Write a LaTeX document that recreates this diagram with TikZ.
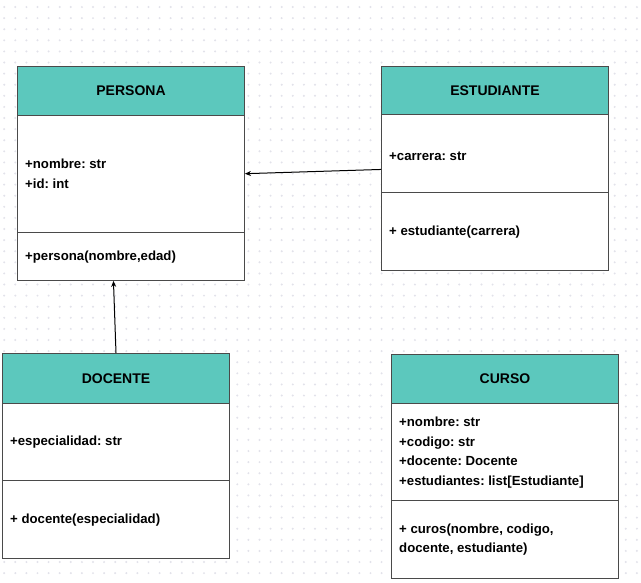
\documentclass[tikz,border=0pt]{standalone}
\usepackage{fontspec}
\setmainfont{Liberation Sans}
\frenchspacing
\usetikzlibrary{arrows.meta,calc}
\definecolor{teal1}{HTML}{5CC8BD}
\definecolor{edge}{HTML}{4A4A4A}
\definecolor{dotc}{HTML}{E2E2EA}
\tikzset{
  hdr/.style={draw=edge, fill=teal1, line width=1pt, anchor=north west, inner sep=0pt,
    font=\fontsize{14}{16}\selectfont\bfseries},
  sect/.style={draw=edge, fill=white, line width=0.9pt, anchor=north west, inner sep=0pt},
  txt/.style={anchor=west, inner sep=0pt, font=\fontsize{13.2}{19.5}\selectfont\bfseries\frenchspacing, align=left},
  arr/.style={-{Stealth[length=6pt,width=5pt]}, line width=1pt, draw=black}
}
\begin{document}
\begin{tikzpicture}[x=1pt,y=-1pt]
\useasboundingbox (0,0) rectangle (641,582);
\fill[white] (0,0) rectangle (641,582);
% dotted grid
\foreach \i in {0,...,57}{
  \foreach \j in {0,...,52}{
    \fill[dotc] ({4.2+11.1*\i},{7+11.1*\j}) circle (1.1);
  }
}
% PERSONA
\node[hdr, minimum width=227, minimum height=49] (perH) at (17,66) {PERSONA};
\node[sect, minimum width=227, minimum height=116.5] (perA) at (17,115) {};
\node[sect, minimum width=227, minimum height=48.5] (perM) at (17,231.5) {};
\node[txt] (perT1) at (25,174) {+nombre: str\\+id: int};
\node[txt] (perT2) at (25,257.5) {+persona(nombre,edad)};
% ESTUDIANTE
\node[hdr, minimum width=227, minimum height=48] (estH) at (381,66) {ESTUDIANTE};
\node[sect, minimum width=227, minimum height=78] (estA) at (381,114) {};
\node[sect, minimum width=227, minimum height=78] (estM) at (381,192) {};
\node[txt] (estT1) at (389,156) {+carrera: str};
\node[txt] (estT2) at (389,232.5) {+ estudiante(carrera)};
% DOCENTE
\node[hdr, minimum width=227, minimum height=50] (docH) at (2,353) {DOCENTE};
\node[sect, minimum width=227, minimum height=77] (docA) at (2,403) {};
\node[sect, minimum width=227, minimum height=78] (docM) at (2,480) {};
\node[txt] (docT1) at (10,442) {+especialidad: str};
\node[txt] (docT2) at (10,520.5) {+ docente(especialidad)};
% CURSO
\node[hdr, minimum width=227, minimum height=49] (curH) at (391,353.5) {CURSO};
\node[sect, minimum width=227, minimum height=97.5] (curA) at (391,402.5) {};
\node[sect, minimum width=227, minimum height=78] (curM) at (391,500) {};
\node[txt] (curT1) at (399,452.5) {+nombre: str\\+codigo: str\\+docente: Docente\\+estudiantes: list[Estudiante]};
\node[txt] (curT2) at (399,539.5) {+ curos(nombre, codigo,\\docente, estudiante)};
% connectors
\draw[arr] ([yshift=-16pt]estA.west) -- (perA.east);
\draw[arr] (docH.north) -- ([xshift=-17.5pt]perM.south);
\end{tikzpicture}
\end{document}
